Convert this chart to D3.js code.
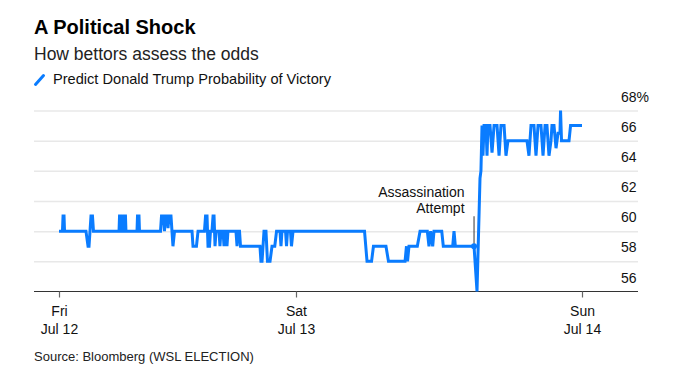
<!DOCTYPE html>
<html><head><meta charset="utf-8">
<script src="https://cdn.jsdelivr.net/npm/d3@7"></script>
<style>
html,body{margin:0;padding:0;background:#fff;}
text{font-family:"Liberation Sans",Arial,sans-serif;}
</style></head>
<body>
<svg id="c" width="685" height="379"></svg>
<script>
// hours since Fri Jul 12 00:00 (axis time), probability of victory (%)
const hours = [0,0.35,0.41,0.51,0.56,2.73,2.94,3.04,3.24,3.39,3.49,6.08,6.13,6.28,6.33,6.53,6.58,6.73,6.78,7.90,7.95,8.10,8.15,
10.28,10.38,10.58,10.68,10.78,10.94,11.04,11.14,11.34,11.44,11.54,11.70,13.47,13.57,13.92,14.08,14.73,14.84,14.99,15.09,15.24,15.34,
15.49,15.60,15.70,15.80,15.90,16.20,16.30,16.40,16.61,16.71,16.81,16.91,17.01,17.11,17.92,18.03,18.13,18.28,18.38,20.35,20.45,20.56,
20.76,20.96,21.11,21.37,21.57,21.85,22.03,22.38,22.48,22.58,22.94,23.04,23.14,23.44,23.54,23.70,
29.75,29.96,30.34,30.50,31.55,31.76,33.15,33.27,33.36,33.48,34.18,34.41,35.02,35.16,35.30,35.47,35.58,36.23,36.36,37.15,37.26,37.37,
38.94,39.19,39.44,39.52,39.61,39.69,39.78,39.94,40.03,40.11,40.28,40.45,40.62,40.87,41.04,41.20,41.46,41.62,41.79,43.38,43.55,43.72,
43.97,44.14,44.31,44.56,44.73,44.90,45.06,45.23,45.40,45.48,45.65,45.82,45.99,46.15,46.20,46.28,46.91,47.04,48];
const probability = [60,60,61,61,60,60,59,59,61,61,60,60,61,61,60,60,61,61,60,60,61,61,60,
60,61,61,60,61,61,60.2,61,61,60,59,60,60,59,59,60,60,61,61,59,59,60,
60,61,61,59,60,60,59,60,60,59,60,60,59,60,60,59,60,60,59,59,58,58,
60,60,58,58,59,59,60,60,59,60,60,59,60,60,59,60,
60,58,58,59,59,58,58,59,58,59,59,60,60,59,60,59,60,60,59,59,60,59,
59,56,63.5,64,67,65,67,67,65,67,67,65.2,67,67,65,67,67,65,66,66,65,67,
67,65,67,67,65,67,67,65,66,67,67,65.5,66.5,66.5,68,66,66,67,67];
const yTicks = [56,58,60,62,64,66,68];
const xTicks = [0,24,48];
const xTickDays = ["Fri","Sat","Sun"];
const xTickDates = ["Jul 12","Jul 13","Jul 14"];
const annotation = {hour:38.94, value:59, lines:["Assassination","Attempt"]};
const title = "A Political Shock";
const subtitle = "How bettors assess the odds";
const legendLabel = "Predict Donald Trump Probability of Victory";
const source = "Source: Bloomberg (WSL ELECTION)";

const svg = d3.select("#c");
const blue = "#0a7cff";
const left = 34, right = 638;
const x = d3.scaleLinear().domain([0,24,48]).range([59,296,582]);
const y = d3.scaleLinear().domain([56,68]).range([291.5,110.5]);

svg.append("text").attr("x",34).attr("y",34).attr("font-size",20).attr("font-weight","bold").attr("fill","#000").text(title);
svg.append("text").attr("x",34).attr("y",60).attr("font-size",17.5).attr("fill","#222").text(subtitle);
svg.append("line").attr("x1",35.5).attr("y1",84.5).attr("x2",43.5).attr("y2",75.5).attr("stroke",blue).attr("stroke-width",3).attr("stroke-linecap","round");
svg.append("text").attr("x",53).attr("y",84).attr("font-size",14.6).attr("fill","#111").text(legendLabel);

// y grid + labels
const yAxis = d3.axisRight(y).tickValues(yTicks).tickSize(-(right-left))
  .tickFormat(d => d === 68 ? d + "%" : d);
const gy = svg.append("g").attr("transform",`translate(${right},0)`).call(yAxis);
gy.select(".domain").remove();
gy.selectAll(".tick line").attr("stroke", d => d === 56 ? "none" : "#e8e8e8").attr("stroke-width",1.5);
gy.selectAll(".tick text").attr("x",-17).attr("dy",-9.5).attr("text-anchor","start")
  .attr("font-size",14).attr("fill","#111").attr("font-family","Liberation Sans, Arial, sans-serif");

// x axis
svg.append("line").attr("x1",left).attr("x2",right).attr("y1",y(56)).attr("y2",y(56)).attr("stroke","#333").attr("stroke-width",1.2);
const xAxis = d3.axisBottom(x).tickValues(xTicks).tickSize(6).tickFormat(() => "");
const gx = svg.append("g").attr("transform",`translate(0,${y(56)})`).call(xAxis);
gx.select(".domain").remove();
gx.selectAll(".tick line").attr("stroke","#666").attr("stroke-width",1.2);
gx.selectAll(".tick text").remove();
gx.selectAll(".tick").each(function(d,i){
  const t = d3.select(this).append("text").attr("text-anchor","middle").attr("font-size",14).attr("fill","#111")
    .attr("font-family","Liberation Sans, Arial, sans-serif");
  t.append("tspan").attr("x",0).attr("y",24.5).text(xTickDays[i]);
  t.append("tspan").attr("x",0).attr("y",42.5).text(xTickDates[i]);
});

// line
const data = hours.map((h,i)=>({h, v:probability[i]}));
const line = d3.line().x(d=>x(d.h)).y(d=>y(d.v));
svg.append("path").datum(data).attr("d",line).attr("fill","none").attr("stroke",blue).attr("stroke-width",3).attr("stroke-linejoin","miter");

// annotation
const ax = x(annotation.hour), ay = y(annotation.value);
svg.append("line").attr("x1",ax).attr("x2",ax).attr("y1",ay).attr("y2",ay-30).attr("stroke","#333").attr("stroke-width",1);
svg.append("circle").attr("cx",ax).attr("cy",ay).attr("r",3).attr("fill",blue);
const at = svg.append("text").attr("text-anchor","end").attr("font-size",14).attr("fill","#111");
annotation.lines.forEach((s,i)=>at.append("tspan").attr("x",ax-9.5).attr("y",ay-49+i*16).text(s));

svg.append("text").attr("x",34).attr("y",361).attr("font-size",13).attr("fill","#222").text(source);
</script>
</body></html>
